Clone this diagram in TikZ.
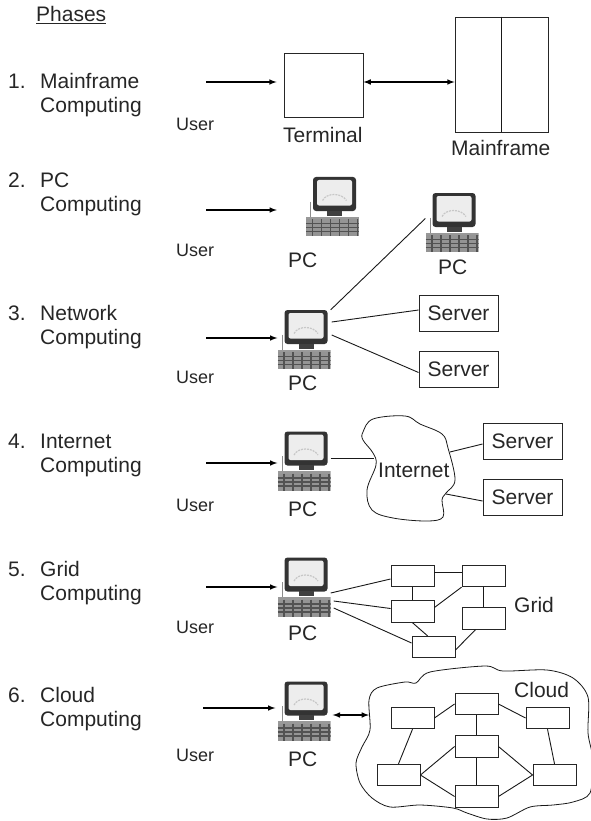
\documentclass[tikz,border=0pt]{standalone}
\usepackage{fontspec}
\setmainfont{Liberation Sans}
\usetikzlibrary{arrows}
\tikzstyle{txt}=[anchor=base west,inner sep=0pt,font=\fontsize{21}{24}\selectfont,text=black!85]
\tikzstyle{small}=[anchor=base west,inner sep=0pt,font=\fontsize{18}{20}\selectfont,text=black!85]
\tikzstyle{box}=[draw=black!85,fill=white,inner sep=0pt,line width=0.9pt]
\tikzstyle{server}=[box,minimum width=79pt,minimum height=36pt,font=\fontsize{21}{24}\selectfont,text=black!85]
\tikzstyle{sbox}=[box,minimum width=43pt,minimum height=21.5pt]
\tikzstyle{edge}=[draw=black!90,line width=0.9pt]
\tikzstyle{arrow}=[draw=black,line width=1.5pt,-latex]
\tikzstyle{pc}=[inner sep=0pt,minimum width=53pt,minimum height=59pt,path picture={
  \begin{scope}[shift={(path picture bounding box.center)}]
    \draw[black!45,line width=0.8pt] (-22,-5) -- (-22,12);
    \fill[black!40] (-26.5,10) rectangle (26.5,13);
    \fill[black!80,rounded corners=3pt] (-19.5,-29.5) rectangle (23.5,4.5);
    \fill[black!75] (-5.5,4) rectangle (9.5,9);
    \fill[black!7,rounded corners=2pt] (-15.5,-26.5) rectangle (19.5,-1);
    \draw[black!22,line width=1.2pt,dash pattern=on 2pt off 1pt] (-10,-6) .. controls (-6,-14) and (9,-14) .. (14,-6);
    \fill[black!42] (-26.5,12.5) rectangle (26.5,29.5);
    \foreach \i in {-20,-11,...,25}
      \draw[black!68,line width=1.1pt] (\i,12.5) -- (\i,29.5);
    \foreach \j in {17,21,25}
      \draw[black!68,line width=1.1pt] (-26.5,\j) -- (26.5,\j);
  \end{scope}}]

\begin{document}
\begin{tikzpicture}[x=1pt,y=-1pt]
  \useasboundingbox (0,0) rectangle (590,821);

  \node[txt] (phases) at (36,22) {\underline{Phases}};

  % phases on the left
  \foreach \n/\y/\name in {1/89/Mainframe, 2/187/PC, 3/320/Network, 4/448/Internet, 5/576/Grid, 6/702/Cloud} {
    \node[txt] (num\n) at (8,\y) {\n.};
    \node[txt] (first\n) at (40,\y) {\name};
    \node[txt] (second\n) at (40,\y+24) {Computing};
  }
  \foreach \n/\y in {1/131, 2/256, 3/383, 4/511, 5/633, 6/761}
    \node[small] (user\n) at (176,\y) {User};

  % computers
  \foreach \x/\y/\name in {332.5/206.5/pc2, 452/222.5/pcb, 304/339.5/pc3, 304/461/pc4, 304/587/pc5, 304/711/pc6}
    \node[pc] (\name) at (\x,\y) {};
  \foreach \x/\y/\name in {288/267/a, 438/274/b, 288/390/c, 288/516/d, 288/640/e, 288/766/f}
    \node[txt] (pclabel\name) at (\x,\y) {PC};

  % mainframe row
  \node[box,minimum width=79pt,minimum height=64pt] (term) at (323.5,85) {};
  \node[box,minimum width=93pt,minimum height=115pt] (main) at (501.5,74.5) {};
  \draw[edge] (main.north) -- (main.south);
  \node[txt] (termlabel) at (283,143) {Terminal};
  \node[txt] (mainlabel) at (451,156) {Mainframe};
  \draw[arrow,latex-latex] ([yshift=3pt]term.east) -- ([yshift=3pt]term.east -| main.west);

  % user arrows
  \foreach \n/\x/\y/\dest/\gap in {1/206/82/term/7pt, 2/206/210/pc2/29pt, 3/206/338/pc3/0pt, 4/206/463/pc4/0pt, 5/206/587/pc5/0pt, 6/203/708/pc6/2pt} {
    \coordinate (u\n) at (\x,\y);
    \draw[arrow] (u\n) -- ([xshift=-\gap]u\n -| \dest.west);
  }

  % network row
  \foreach \x/\y/\name in {458.5/313/s1, 458.5/369.5/s2, 522.5/441/s3, 522.5/497.5/s4}
    \node[server] (\name) at (\x,\y) {Server};
  \draw[edge] (pc3.north east) -- ([yshift=4pt]pcb.west);
  \draw[edge] ([xshift=1pt,yshift=17.5pt]pc3.east) -- ([yshift=3pt]s1.west);
  \draw[edge] ([xshift=1pt,yshift=4.5pt]pc3.east) -- ([yshift=-3pt]s2.west);

  % internet row
  \draw[black!90,line width=0.8pt] plot[smooth cycle,tension=0.6] coordinates {(363,432) (373,419) (405,416) (420,424) (442,434) (448,448) (455,480) (446,493) (442,500) (443,517) (427,521) (393,518) (372,510) (367,490) (376,465) (373,453) (363,440)};
  \node[txt] (inet) at (378,477) {Internet};
  \coordinate (n1) at (374,458);
  \coordinate (n2) at (450,452);
  \coordinate (n3) at (446,494);
  \draw[edge] (n1 -| pc4.east) -- (n1);
  \draw[edge] (n2) -- ([yshift=-3pt]s3.west);
  \draw[edge] (n3) -- ([yshift=-3.5pt]s4.west);

  % grid row
  \foreach \x/\y/\name in {412.5/576/g1, 483.5/576/g2, 412.5/611.5/g3, 483.5/618.5/g4, 433.5/647/g5}
    \node[sbox] (\name) at (\x,\y) {};
  \node[txt] (gridlabel) at (514,612) {Grid};
  \draw[edge] ([yshift=4pt]g1.east) -- ([yshift=4pt]g2.west);
  \draw[edge] (g1.south) -- (g3.north);
  \draw[edge] ([yshift=4pt]g3.east) -- (g2.south west);
  \draw[edge] (g2.south) -- (g4.north);
  \draw[edge] (g3.south) -- ([xshift=-6pt]g5.north);
  \draw[edge] ([xshift=-8pt]g4.south) -- ([yshift=-3pt]g5.east);
  \draw[edge] ([yshift=-6pt]pc5.east) -- ([yshift=-3pt]g1.west);
  \draw[edge] ([xshift=3pt,yshift=-14pt]pc5.east) -- ([yshift=3pt]g3.west);
  \draw[edge] ([xshift=3pt,yshift=-21pt]pc5.east) -- ([yshift=4pt]g5.west);

  % cloud row
  \draw[black!90,line width=0.8pt] plot[smooth cycle,tension=0.5] coordinates {(369,700) (377,688) (405,682) (416,683) (430,672) (485,666) (503,671) (547,670) (573,678) (588,697) (588,733) (593,760) (590,793) (573,802) (553,805) (530,807) (507,818) (487,819) (467,813) (453,808) (420,805) (390,807) (372,798) (360,783) (356,763) (362,747) (370,730)};
  \foreach \x/\y/\name in {412.5/718/c1, 476.5/704/c2, 547.5/718/c3, 476.5/746.5/c4, 398.5/775/c5, 476.5/796.5/c6, 554.5/775/c7}
    \node[sbox] (\name) at (\x,\y) {};
  \node[txt] (cloudlabel) at (514,697) {Cloud};
  \foreach \source/\dest in {c1.east/c2.west, c2.east/c3.west, c2.south/c4.north, c1.south/c5.north, c3.south/c7.north, c4.west/c5.east, c4.east/c7.west, c5.east/c6.west, c6.east/c7.west, c4.south/c6.north}
    \draw[edge] (\source) -- (\dest);
  \coordinate (n4) at (369,715);
  \draw[arrow,latex-latex] ([xshift=2pt,yshift=-4pt]pc6.east) -- (n4);
\end{tikzpicture}
\end{document}
